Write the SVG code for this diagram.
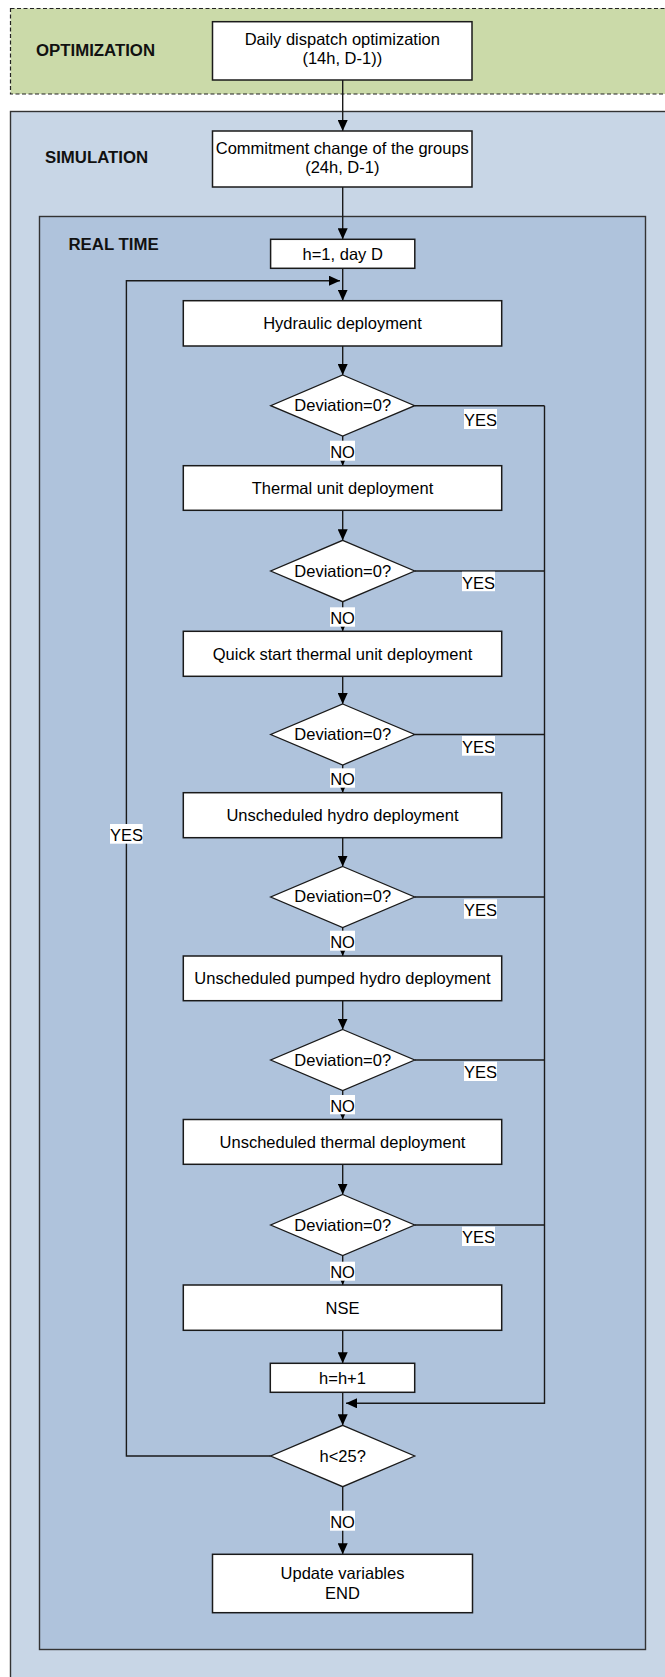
<svg xmlns="http://www.w3.org/2000/svg" width="665" height="1677" viewBox="0 0 665 1677">
  <defs>
    <marker id="arr" markerUnits="userSpaceOnUse" markerWidth="11" markerHeight="10" refX="11" refY="5" orient="auto">
      <path d="M0,0 L11,5 L0,10 z" fill="#000"/>
    </marker>
    <style>
      .region-opt { fill: #cbdaa9; stroke: #222; stroke-width: 1.2; stroke-dasharray: 4 2.5; }
      .region-sim { fill: #c8d6e6; stroke: #333; stroke-width: 1.4; }
      .region-rt { fill: #afc3dc; stroke: #333; stroke-width: 1.4; }
      .box { fill: #fff; stroke: #1a1a1a; stroke-width: 1.5; }
      .dia { fill: #fff; stroke: #1a1a1a; stroke-width: 1.3; }
      .t { font-family: "Liberation Sans", Arial, sans-serif; font-size: 16.5px; fill: #000; text-anchor: middle; }
      .rl { font-family: "Liberation Sans", Arial, sans-serif; font-size: 16.8px; font-weight: bold; fill: #111; }
      .lbl { fill: #fff; }
      .ln { fill: none; stroke: #1a1a1a; stroke-width: 1.4; }
      .ar { fill: none; stroke: #1a1a1a; stroke-width: 1.4; marker-end: url(#arr); }
    </style>
  </defs>

  <g id="region-optimization">
    <rect class="region-opt" x="10.5" y="8.5" width="680" height="85.5"/>
    <text class="rl" x="36" y="56">OPTIMIZATION</text>
  </g>
  <g id="region-simulation">
    <rect class="region-sim" x="10.5" y="111.5" width="680" height="1600"/>
    <text class="rl" x="45" y="163">SIMULATION</text>
  </g>
  <g id="region-realtime">
    <rect class="region-rt" x="39.5" y="216.5" width="606" height="1433"/>
    <text class="rl" x="68.5" y="250">REAL TIME</text>
  </g>

  <g id="connectors">
    <line class="ar" x1="342.7" y1="80" x2="342.7" y2="131"/>
    <line class="ar" x1="342.7" y1="187" x2="342.7" y2="239.3"/>
    <line class="ar" x1="342.7" y1="268.3" x2="342.7" y2="300.7"/>
    <line class="ar" x1="342.7" y1="346" x2="342.7" y2="375"/>
    <line class="ar" x1="342.7" y1="436" x2="342.7" y2="465.7"/>
    <line class="ar" x1="342.7" y1="510.3" x2="342.7" y2="540.3"/>
    <line class="ar" x1="342.7" y1="601.7" x2="342.7" y2="631.3"/>
    <line class="ar" x1="342.7" y1="676.3" x2="342.7" y2="704"/>
    <line class="ar" x1="342.7" y1="765" x2="342.7" y2="792.7"/>
    <line class="ar" x1="342.7" y1="837.7" x2="342.7" y2="866.5"/>
    <line class="ar" x1="342.7" y1="927.5" x2="342.7" y2="956"/>
    <line class="ar" x1="342.7" y1="1000.7" x2="342.7" y2="1029.5"/>
    <line class="ar" x1="342.7" y1="1090.5" x2="342.7" y2="1119.5"/>
    <line class="ar" x1="342.7" y1="1164.3" x2="342.7" y2="1194.5"/>
    <line class="ar" x1="342.7" y1="1255.5" x2="342.7" y2="1285"/>
    <line class="ar" x1="342.7" y1="1330.3" x2="342.7" y2="1363.3"/>
    <line class="ar" x1="342.7" y1="1392.3" x2="342.7" y2="1425.3"/>
    <line class="ar" x1="342.7" y1="1486.7" x2="342.7" y2="1554.3"/>
    <!-- loop back -->
    <polyline class="ar" points="270.7,1456 126.4,1456 126.4,280.7 340,280.7"/>
    <!-- YES branches -->
    <line class="ln" x1="414.7" y1="405.7" x2="544.5" y2="405.7"/>
    <line class="ln" x1="414.7" y1="571" x2="544.5" y2="571"/>
    <line class="ln" x1="414.7" y1="734.5" x2="544.5" y2="734.5"/>
    <line class="ln" x1="414.7" y1="897" x2="544.5" y2="897"/>
    <line class="ln" x1="414.7" y1="1060" x2="544.5" y2="1060"/>
    <line class="ln" x1="414.7" y1="1225" x2="544.5" y2="1225"/>
    <polyline class="ar" points="544.5,405.7 544.5,1403.3 346,1403.3"/>
    <!-- labels -->
    <rect class="lbl" x="464" y="409" width="33" height="20"/>
    <text class="t" x="480.5" y="426">YES</text>
    <rect class="lbl" x="462" y="571.7" width="33" height="19.5"/>
    <text class="t" x="478.5" y="588.5">YES</text>
    <rect class="lbl" x="462" y="736" width="33" height="19.7"/>
    <text class="t" x="478.5" y="752.8">YES</text>
    <rect class="lbl" x="464" y="899.3" width="33" height="19.5"/>
    <text class="t" x="480.5" y="916">YES</text>
    <rect class="lbl" x="464" y="1061.7" width="33" height="19.3"/>
    <text class="t" x="480.5" y="1078.3">YES</text>
    <rect class="lbl" x="462" y="1226.7" width="33" height="19.3"/>
    <text class="t" x="478.5" y="1243.3">YES</text>
    <rect class="lbl" x="110" y="824" width="32.7" height="19.7"/>
    <text class="t" x="126.4" y="841">YES</text>
    <rect class="lbl" x="330" y="440.7" width="25" height="20"/>
    <text class="t" x="342.5" y="457.5">NO</text>
    <rect class="lbl" x="330" y="607.3" width="25" height="19.4"/>
    <text class="t" x="342.5" y="624">NO</text>
    <rect class="lbl" x="330" y="768.3" width="25" height="19.4"/>
    <text class="t" x="342.5" y="785">NO</text>
    <rect class="lbl" x="330" y="930.7" width="25" height="20"/>
    <text class="t" x="342.5" y="947.7">NO</text>
    <rect class="lbl" x="330" y="1095" width="25" height="19.3"/>
    <text class="t" x="342.5" y="1111.7">NO</text>
    <rect class="lbl" x="330" y="1261.7" width="25" height="19"/>
    <text class="t" x="342.5" y="1278">NO</text>
    <rect class="lbl" x="330" y="1510.7" width="25" height="20"/>
    <text class="t" x="342.5" y="1527.5">NO</text>
  </g>

  <g id="n-daily">
    <rect class="box" x="212.5" y="21.7" width="259.5" height="58.3"/>
    <text class="t" x="342.3" y="45">Daily dispatch optimization</text>
    <text class="t" x="342.3" y="64">(14h, D-1))</text>
  </g>
  <g id="n-commitment">
    <rect class="box" x="212.5" y="131" width="259.5" height="56"/>
    <text class="t" x="342.3" y="154">Commitment change of the groups</text>
    <text class="t" x="342.3" y="173">(24h, D-1)</text>
  </g>
  <g id="n-h1">
    <rect class="box" x="270.6" y="239.3" width="144.2" height="29"/>
    <text class="t" x="342.7" y="259.5">h=1, day D</text>
  </g>
  <g id="n-hydraulic">
    <rect class="box" x="183.3" y="300.7" width="318.4" height="45.3"/>
    <text class="t" x="342.5" y="329">Hydraulic deployment</text>
  </g>
  <g id="d-1">
    <polygon class="dia" points="342.7,375 414.7,405.7 342.7,436 270.7,405.7"/>
    <text class="t" x="342.7" y="411">Deviation=0?</text>
  </g>
  <g id="n-thermal">
    <rect class="box" x="183.3" y="465.7" width="318.4" height="44.6"/>
    <text class="t" x="342.5" y="494">Thermal unit deployment</text>
  </g>
  <g id="d-2">
    <polygon class="dia" points="342.7,540.3 414.7,571 342.7,601.7 270.7,571"/>
    <text class="t" x="342.7" y="576.5">Deviation=0?</text>
  </g>
  <g id="n-quick">
    <rect class="box" x="183.3" y="631.3" width="318.4" height="45"/>
    <text class="t" x="342.5" y="659.8">Quick start thermal unit deployment</text>
  </g>
  <g id="d-3">
    <polygon class="dia" points="342.7,704 414.7,734.5 342.7,765 270.7,734.5"/>
    <text class="t" x="342.7" y="740">Deviation=0?</text>
  </g>
  <g id="n-uhydro">
    <rect class="box" x="183.3" y="792.7" width="318.4" height="45"/>
    <text class="t" x="342.5" y="821">Unscheduled hydro deployment</text>
  </g>
  <g id="d-4">
    <polygon class="dia" points="342.7,866.5 414.7,897 342.7,927.5 270.7,897"/>
    <text class="t" x="342.7" y="902.3">Deviation=0?</text>
  </g>
  <g id="n-pumped">
    <rect class="box" x="183.3" y="956" width="318.4" height="44.7"/>
    <text class="t" x="342.5" y="984.3">Unscheduled pumped hydro deployment</text>
  </g>
  <g id="d-5">
    <polygon class="dia" points="342.7,1029.5 414.7,1060 342.7,1090.5 270.7,1060"/>
    <text class="t" x="342.7" y="1065.5">Deviation=0?</text>
  </g>
  <g id="n-uthermal">
    <rect class="box" x="183.3" y="1119.5" width="318.4" height="44.8"/>
    <text class="t" x="342.5" y="1148">Unscheduled thermal deployment</text>
  </g>
  <g id="d-6">
    <polygon class="dia" points="342.7,1194.5 414.7,1225 342.7,1255.5 270.7,1225"/>
    <text class="t" x="342.7" y="1230.5">Deviation=0?</text>
  </g>
  <g id="n-nse">
    <rect class="box" x="183.3" y="1285" width="318.4" height="45.3"/>
    <text class="t" x="342.5" y="1313.5">NSE</text>
  </g>
  <g id="n-hinc">
    <rect class="box" x="270.3" y="1363.3" width="144.4" height="29"/>
    <text class="t" x="342.5" y="1383.5">h=h+1</text>
  </g>
  <g id="d-h25">
    <polygon class="dia" points="342.7,1425.3 414.7,1456 342.7,1486.7 270.7,1456"/>
    <text class="t" x="342.7" y="1461.5">h&lt;25?</text>
  </g>
  <g id="n-update">
    <rect class="box" x="212.5" y="1554.3" width="260" height="58.4"/>
    <text class="t" x="342.5" y="1579">Update variables</text>
    <text class="t" x="342.5" y="1598.5">END</text>
  </g>
</svg>
